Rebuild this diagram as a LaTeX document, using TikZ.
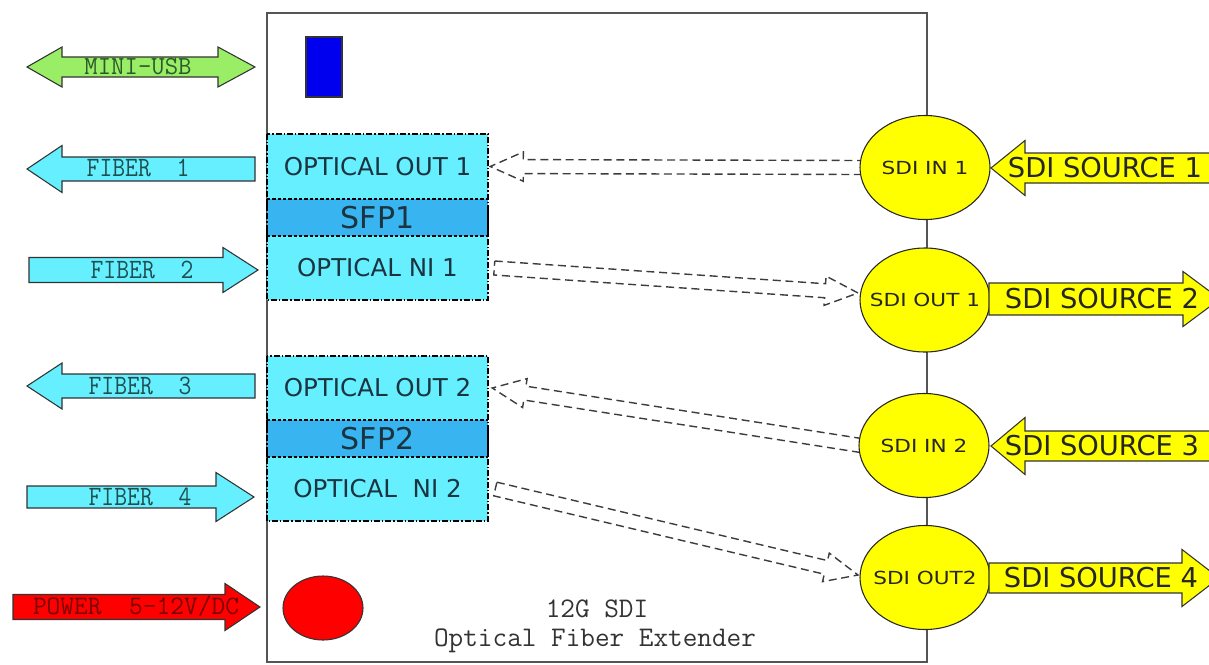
\documentclass[tikz,border=0pt]{standalone}
\usepackage{graphicx}
\usepackage{fontspec}
\setmainfont{DejaVu Sans}
\usetikzlibrary{calc,shapes.geometric}
\definecolor{cyanF}{HTML}{66F0FF}
\definecolor{bandB}{HTML}{38B4F0}
\definecolor{greenF}{HTML}{99EE66}
\definecolor{yellowF}{HTML}{FFFF00}
\definecolor{redF}{HTML}{FF0000}
\definecolor{blueF}{HTML}{0000EE}
\definecolor{tealT}{HTML}{1F4F4F}
\definecolor{greenT}{HTML}{2C5A2C}
\definecolor{redT}{HTML}{7A0000}
\definecolor{optT}{HTML}{1C3340}
\definecolor{boxL}{HTML}{555555}
\definecolor{dashL}{HTML}{3C3C3C}
\newcommand\hwSh{5.25pt}
\newcommand\hwHd{11pt}
\newcommand\hwLen{24.75pt}
% block arrow: style, tail x, head-base x, tip x, centre y, shaft half, head half
\newcommand\blockarr[7]{%
  \path[#1] (#2,#5-#6) -- (#3,#5-#6) -- (#3,#5-#7) -- (#4,#5) -- (#3,#5+#7) -- (#3,#5+#6) -- (#2,#5+#6) -- cycle;}
% hollow dashed arrow: name, tail, tip
\newcommand\hollowarr[3]{%
  \coordinate (#1h) at ($(#3)!\hwLen!(#2)$);
  \draw[hollow] ($(#2)!\hwSh!90:(#3)$) -- ($(#1h)!\hwSh!90:(#3)$) -- ($(#1h)!\hwHd!90:(#3)$) -- (#3)
     -- ($(#1h)!\hwHd!-90:(#3)$) -- ($(#1h)!\hwSh!-90:(#3)$) -- ($(#2)!\hwSh!-90:(#3)$) -- cycle;}
\tikzset{
  mainbox/.style={draw=boxL, line width=1.1pt},
  optbox/.style={fill=cyanF, inner sep=0pt, minimum width=165.75pt, text=optT,
     font=\fontsize{18.4}{20}\selectfont},
  bandbox/.style={fill=bandB, inner sep=0pt, minimum width=165.75pt, minimum height=27.75pt,
     text=optT, font=\fontsize{22.5}{24}\selectfont},
  grpline/.style={draw=black, line width=0.9pt, dash pattern=on 4.5pt off 1.5pt on 1pt off 1.5pt},
  divline/.style={draw=black, line width=0.8pt, dash pattern=on 2.5pt off 1.5pt},
  bandmark/.style={draw=black, line width=2pt},
  hollow/.style={draw=dashL, line width=1.05pt, dash pattern=on 6pt off 3.5pt},
  sdi/.style={ellipse, draw=black!85, line width=0.8pt, fill=yellowF, inner sep=0pt,
     minimum width=97.5pt, minimum height=78pt},
  sditext/.style={inner sep=0pt, text=black!85, font=\fontsize{13.5}{15}\selectfont},
  barr/.style={draw=black!80, line width=0.8pt},
  monotext/.style={font=\ttfamily\fontsize{21}{24}\selectfont, inner sep=0pt},
  srctext/.style={font=\fontsize{20.5}{22}\selectfont, text=black!85, inner sep=0pt},
  titletext/.style={font=\ttfamily\fontsize{21.3}{22}\selectfont, text=black!80, inner sep=0pt},
}
\newcommand\sdilabel[1]{\scalebox{1.2}[1]{#1}}
\begin{document}
\begin{tikzpicture}[x=0.75pt,y=-0.75pt]
\useasboundingbox (0,0) rectangle (1209,664);
\clip (0,0) rectangle (1209,664);

% main enclosure
\draw[mainbox] (267,13) rectangle (927,662);

% indicators
\node[draw=black!80, fill=blueF, line width=0.8pt, inner sep=0pt, minimum width=27pt, minimum height=45pt] (usbled) at (324,67) {};
\node[ellipse, draw=black!80, fill=redF, line width=0.8pt, inner sep=0pt, minimum width=60pt, minimum height=48pt] (pwrled) at (323,608) {};

% SFP 1
\node[optbox, minimum height=48.75pt] (out1) at (377.5,166.5) {OPTICAL OUT 1};
\node[bandbox] (sfp1) at (377.5,217.5) {SFP1};
\node[optbox, minimum height=48pt] (ni1) at (377.5,268) {OPTICAL NI 1};
\draw[grpline] (267,134) rectangle (488,300);
\draw[divline] (267,199) -- (488,199);
\draw[divline] (267,236) -- (488,236);
\draw[bandmark] (267,199) -- (267,211);
\draw[bandmark] (267,227) -- (267,236);
\draw[bandmark] (488,205) -- (488,236);

% SFP 2
\node[optbox, minimum height=48pt] (out2) at (377.5,388) {OPTICAL OUT 2};
\node[bandbox] (sfp2) at (377.5,438.5) {SFP2};
\node[optbox, minimum height=48pt] (ni2) at (377.5,489) {OPTICAL\ \ NI 2};
\draw[grpline] (267,356) rectangle (488,521);
\draw[divline] (267,420) -- (488,420);
\draw[divline] (267,457) -- (488,457);
\draw[bandmark] (267,420) -- (267,432);
\draw[bandmark] (267,447) -- (267,457);
\draw[bandmark] (488,427) -- (488,456);

% SDI connector positions
\coordinate (in1c) at (925,167.5);
\coordinate (o1c) at (925,300);
\coordinate (in2c) at (924,445.5);
\coordinate (o2c) at (925,577.5);

\coordinate (a1tail) at (862,167.5);
\coordinate (a1tip) at ($(out1.east)+(2,0)$);
\coordinate (a2tail) at ($(ni1.east)+(6,0)$);
\coordinate (a2tip) at (858,293);
\coordinate (a3tail) at (861,445.5);
\coordinate (a3tip) at ($(out2.east)+(4,0)$);
\coordinate (a4tail) at ($(ni2.east)+(7,0)$);
\coordinate (a4tip) at (858,575);
\hollowarr{a1}{a1tail}{a1tip}
\hollowarr{a2}{a2tail}{a2tip}
\hollowarr{a3}{a3tail}{a3tip}
\hollowarr{a4}{a4tail}{a4tip}

\node[sdi] (in1) at (in1c) {};
\node[sdi] (o1) at (o1c) {};
\node[sdi] (in2) at (in2c) {};
\node[sdi] (o2) at (o2c) {};
\node[sditext] (in1t) at (in1c) {\sdilabel{SDI IN 1}};
\node[sditext] (o1t) at (o1c) {\sdilabel{SDI OUT 1}};
\node[sditext] (in2t) at (in2c) {\sdilabel{SDI IN 2}};
\node[sditext] (o2t) at (o2c) {\sdilabel{SDI OUT2}};

% SDI source arrows
\blockarr{barr, fill=yellowF}{1230}{1025}{991}{168}{15}{27.5}
\blockarr{barr, fill=yellowF}{989}{1183}{1220}{299}{16}{27.5}
\blockarr{barr, fill=yellowF}{1230}{1025}{991}{446}{15}{28.5}
\blockarr{barr, fill=yellowF}{989}{1182}{1219}{578}{15}{28.5}
\node[srctext] (s1) at (1105,168) {SDI SOURCE 1};
\node[srctext] (s2) at (1102,299) {SDI SOURCE 2};
\node[srctext] (s3) at (1102,446) {SDI SOURCE 3};
\node[srctext] (s4) at (1101,578) {SDI SOURCE 4};

% left side arrows
\path[barr, fill=greenF] (62,57) -- (218,57) -- (218,47) -- (255,67) -- (218,87) -- (218,77)
   -- (62,77) -- (62,87) -- (27,67) -- (62,47) -- cycle;
\node[monotext, text=greenT, font=\ttfamily\fontsize{19.5}{21}\selectfont] (usb) at (138,67) {MINI-USB};

\blockarr{barr, fill=cyanF}{255}{62}{27}{169}{12}{23.5}
\blockarr{barr, fill=cyanF}{29}{223}{258}{270}{12.5}{22.5}
\blockarr{barr, fill=cyanF}{255}{62}{27}{386}{12}{23}
\blockarr{barr, fill=cyanF}{27}{216}{254}{497}{11}{24.5}
\node[monotext, text=tealT] (f1) at (138,168) {\scalebox{0.89}[1]{FIBER\ \ 1}};
\node[monotext, text=tealT] (f2) at (142,270) {\scalebox{0.89}[1]{FIBER\ \ 2}};
\node[monotext, text=tealT] (f3) at (140,386) {\scalebox{0.89}[1]{FIBER\ \ 3}};
\node[monotext, text=tealT] (f4) at (140,497) {\scalebox{0.89}[1]{FIBER\ \ 4}};

\blockarr{barr, fill=redF}{13}{225}{260}{607}{12.5}{23.5}
\node[monotext, text=redT, font=\ttfamily\fontsize{20}{22}\selectfont] (pwr) at (136,606) {POWER\ \ 5-12V/DC};

% title
\node[titletext, anchor=base] (t1) at (597,617) {12G SDI};
\node[titletext, anchor=base] (t2) at (595,646) {Optical Fiber Extender};
\end{tikzpicture}
\end{document}
